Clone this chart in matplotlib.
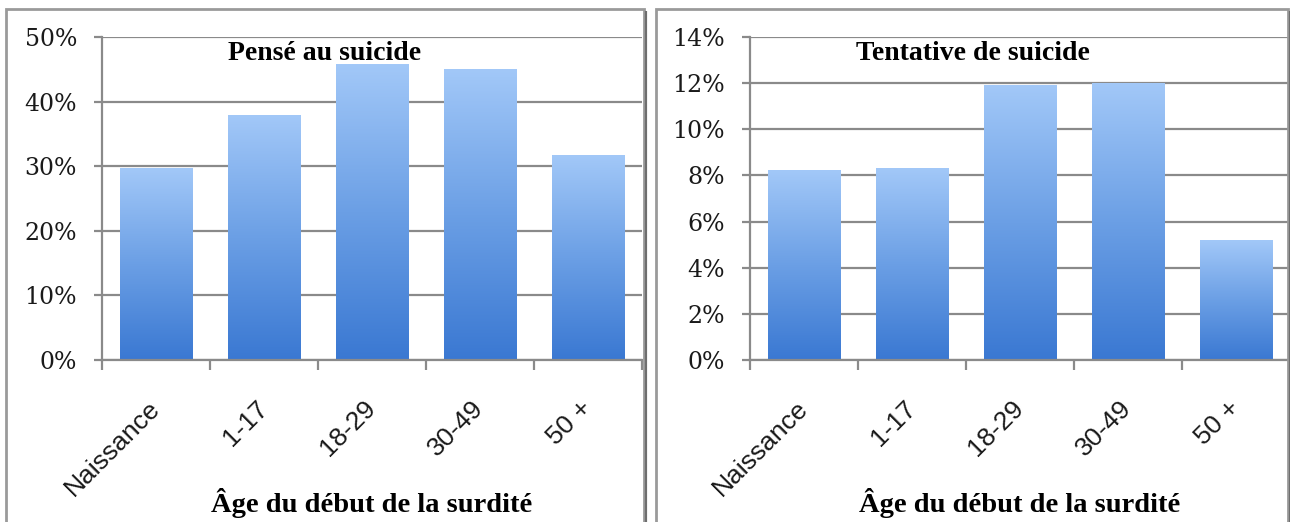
import numpy as np
import matplotlib
matplotlib.use("Agg")
import matplotlib.pyplot as plt
from matplotlib.colors import LinearSegmentedColormap
from matplotlib.patches import Rectangle
from matplotlib.ticker import PercentFormatter

# ---- Data ----
ages = ["Naissance", "1-17", "18-29", "30-49", "50 +"]
pense_suicide = [29.6, 37.9, 45.7, 45.0, 31.7]
tentative_suicide = [8.2, 8.3, 11.9, 12.0, 5.2]

titles = ["Pensé au suicide", "Tentative de suicide"]
xlabel = "Âge du début de la surdité"
y_max = [50, 14]
y_step = [10, 2]

GRID = "#8a8a8a"
bar_cmap = LinearSegmentedColormap.from_list("bar", ["#3a78d2", "#6b9fe5", "#a2c8f8"])
grad = np.linspace(0, 1, 256).reshape(-1, 1)

fig = plt.figure(figsize=(12.9, 5.22), dpi=100)
W, H = 1290, 522


def px_box(x0, y0, x1, y1):
    # pixel box (top-left origin) -> figure fraction rect
    return [x0 / W, 1 - y1 / H, (x1 - x0) / W, (y1 - y0) / H]


# panel frames
for x0, x1 in [(6, 644), (656, 1288)]:
    fig.patches.append(Rectangle((x0 / W, -0.05), (x1 - x0) / W, 1.05 - 9 / H,
                                 transform=fig.transFigure, fill=False,
                                 edgecolor="#9a9a9a", lw=2.0, zorder=0))
    fig.patches.append(Rectangle(((x1 + 1.5) / W, -0.05), 0.0, 1.05 - 11 / H,
                                 transform=fig.transFigure, fill=False,
                                 edgecolor="#6e6e6e", lw=1.5, zorder=0))

axes = [fig.add_axes(px_box(102, 37, 642, 360)),
        fig.add_axes(px_box(750, 37, 1290, 360))]

for ax, vals, title, ymax, step in zip(axes, [pense_suicide, tentative_suicide],
                                       titles, y_max, y_step):
    x = np.arange(len(ages))
    bars = ax.bar(x, vals, width=0.675, color="none", edgecolor="none")
    for b in bars:
        bx, bw, bh = b.get_x(), b.get_width(), b.get_height()
        ax.imshow(grad, extent=[bx, bx + bw, 0, bh], origin="lower",
                  aspect="auto", cmap=bar_cmap, zorder=2, interpolation="bilinear")

    ax.set_xlim(-0.5, len(ages) - 0.5)
    ax.set_ylim(0, ymax)
    ax.set_yticks(np.arange(0, ymax + step / 2, step))
    ax.yaxis.set_major_formatter(PercentFormatter(decimals=0))
    ax.grid(axis="y", color=GRID, lw=1.6, zorder=1)
    ax.set_axisbelow(True)

    for side in ["top", "right"]:
        ax.spines[side].set_visible(False)
    for side in ["left", "bottom"]:
        ax.spines[side].set_color(GRID)
        ax.spines[side].set_linewidth(1.6)

    # category boundaries carry the tick marks, centres carry the labels
    ax.set_xticks(np.arange(-0.5, len(ages)), minor=True)
    ax.set_xticks(x)
    ax.set_xticklabels(ages, rotation=45, rotation_mode="anchor", ha="right",
                       va="center")
    ax.tick_params(axis="x", which="major", length=0, pad=32, labelsize=19,
                   labelfontfamily="Liberation Sans", labelcolor="#1a1a1a")
    ax.tick_params(axis="x", which="minor", length=7, width=1.6, color=GRID)
    ax.tick_params(axis="y", length=6, width=1.6, color=GRID, pad=12,
                   labelsize=17, labelfontfamily="DejaVu Serif", labelcolor="#1a1a1a")

    ax.text(0.412, 0.95, title, transform=ax.transAxes, ha="center", va="center",
            fontsize=20, fontweight="bold", family="Liberation Serif", zorder=5)
    ax.text(0.5, -0.443, xlabel, transform=ax.transAxes, ha="center", va="center",
            fontsize=20.5, fontweight="bold", family="Liberation Serif")

fig.savefig("out.png", dpi=100)
